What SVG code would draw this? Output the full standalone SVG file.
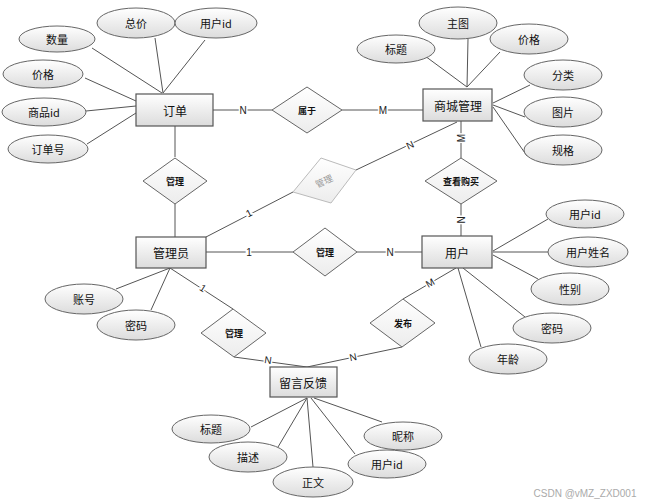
<svg xmlns="http://www.w3.org/2000/svg" width="648" height="504" viewBox="0 0 648 504">
<defs>
<linearGradient id="g" x1="0" y1="0" x2="0" y2="1"><stop offset="0" stop-color="#ffffff"/><stop offset="1" stop-color="#dcdcdc"/></linearGradient>
<linearGradient id="gd" x1="0" y1="0" x2="0" y2="1"><stop offset="0" stop-color="#ffffff"/><stop offset="1" stop-color="#ececec"/></linearGradient>
</defs>
<style>
text{font-family:"Noto Sans CJK SC","Noto Sans",sans-serif;fill:#111;text-anchor:middle;dominant-baseline:central}
.ent rect{fill:url(#g);stroke:#555;stroke-width:1.2}
.ent text{font-size:12px}
.att ellipse{fill:url(#g);stroke:#666;stroke-width:1}
.att text{font-size:11px}
.rel polygon{fill:url(#gd);stroke:#666;stroke-width:1}
.rel text{font-size:9px;font-weight:bold}
#conn line{stroke:#555;stroke-width:1}
.lbl{font-family:"Liberation Sans",sans-serif;font-size:10px;fill:#222;stroke:#fff;stroke-width:3;paint-order:stroke}
</style>
<rect width="648" height="504" fill="#fff"/>
<g id="conn">
<line x1="92" y1="48" x2="162" y2="93"/>
<line x1="155" y1="38" x2="163" y2="93"/>
<line x1="205" y1="40" x2="163" y2="93"/>
<line x1="85" y1="78" x2="136" y2="101"/>
<line x1="86" y1="111" x2="136" y2="106"/>
<line x1="87" y1="144" x2="136" y2="113"/>
<line x1="425" y1="56" x2="467" y2="87"/>
<line x1="468" y1="39" x2="467" y2="87"/>
<line x1="500" y1="52" x2="467" y2="87"/>
<line x1="530" y1="85" x2="493" y2="103"/>
<line x1="525" y1="117" x2="493" y2="105"/>
<line x1="527" y1="156" x2="493" y2="107"/>
<line x1="213" y1="110" x2="272" y2="110"/>
<line x1="342" y1="110" x2="423" y2="110"/>
<line x1="175" y1="126" x2="175" y2="157"/>
<line x1="175" y1="204" x2="175" y2="237"/>
<line x1="461" y1="121" x2="461" y2="158"/>
<line x1="461" y1="204" x2="461" y2="236"/>
<line x1="457" y1="122" x2="356" y2="170"/>
<line x1="293" y1="192" x2="206" y2="237"/>
<line x1="206" y1="252" x2="293" y2="252"/>
<line x1="357" y1="252" x2="422" y2="252"/>
<line x1="170" y1="268" x2="233" y2="309"/>
<line x1="234" y1="357" x2="307" y2="367"/>
<line x1="402" y1="347" x2="307" y2="367"/>
<line x1="456" y1="268" x2="403" y2="299"/>
<line x1="116" y1="289" x2="170" y2="268"/>
<line x1="151" y1="310" x2="170" y2="268"/>
<line x1="493" y1="251" x2="548" y2="219"/>
<line x1="493" y1="252" x2="548" y2="252"/>
<line x1="493" y1="255" x2="538" y2="279"/>
<line x1="463" y1="268" x2="525" y2="317"/>
<line x1="458" y1="268" x2="481" y2="347"/>
<line x1="307" y1="398" x2="251" y2="427"/>
<line x1="307" y1="398" x2="278" y2="447"/>
<line x1="307" y1="398" x2="313" y2="467"/>
<line x1="311" y1="398" x2="355" y2="454"/>
<line x1="314" y1="398" x2="382" y2="422"/>
<text class="lbl" x="243" y="110">N</text>
<text class="lbl" x="383" y="110">M</text>
<text class="lbl" transform="translate(461,138) rotate(-90)">M</text>
<text class="lbl" transform="translate(461,220) rotate(-90)">N</text>
<text class="lbl" transform="translate(410,145) rotate(-25)">N</text>
<text class="lbl" transform="translate(249,213) rotate(-27)">1</text>
<text class="lbl" x="249" y="252">1</text>
<text class="lbl" x="390" y="252">N</text>
<text class="lbl" transform="translate(203,288) rotate(33)">1</text>
<text class="lbl" transform="translate(268,360) rotate(8)">N</text>
<text class="lbl" transform="translate(353,357) rotate(-12)">N</text>
<text class="lbl" transform="translate(430,283) rotate(-30)">M</text>
</g>
<g id="订单" class="ent"><rect x="136" y="94" width="77" height="32"/><text x="175" y="110">订单</text></g>
<g id="商城管理" class="ent"><rect x="423" y="89" width="69" height="32"/><text x="458" y="105">商城管理</text></g>
<g id="管理员" class="ent"><rect x="136" y="237" width="70" height="31"/><text x="171" y="252">管理员</text></g>
<g id="用户" class="ent"><rect x="422" y="236" width="70" height="32"/><text x="457" y="252">用户</text></g>
<g id="留言反馈" class="ent"><rect x="270" y="367" width="67" height="30"/><text x="303" y="382">留言反馈</text></g>
<g id="属于" class="rel"><polygon points="272,110 307,87 342,110 307,133"/><text x="307" y="110">属于</text></g>
<g id="管理1" class="rel"><polygon points="143,181 175,158 207,181 175,204"/><text x="175" y="181">管理</text></g>
<g id="管理2" class="rel"><polygon points="293,192 321,158 356,170 331,203" style="stroke:#bbb"/><text transform="translate(324,181) rotate(-25)" style="fill:#999;font-weight:normal">管理</text></g>
<g id="管理3" class="rel"><polygon points="293,252 325,228 357,252 325,276"/><text x="325" y="252">管理</text></g>
<g id="查看购买" class="rel"><polygon points="425,181 461,158 497,181 461,204"/><text x="461" y="181">查看购买</text></g>
<g id="发布" class="rel"><polygon points="370,323 403,299 435,323 402,347"/><text x="403" y="323">发布</text></g>
<g id="管理4" class="rel"><polygon points="201,333 233,309 266,333 234,357"/><text x="234" y="333">管理</text></g>
<g id="订单-数量" class="att"><ellipse cx="57" cy="39" rx="38" ry="13"/><text x="57" y="39">数量</text></g>
<g id="订单-总价" class="att"><ellipse cx="136" cy="23" rx="39" ry="15"/><text x="136" y="23">总价</text></g>
<g id="订单-用户id" class="att"><ellipse cx="216" cy="23" rx="41" ry="15"/><text x="216" y="23">用户id</text></g>
<g id="订单-价格" class="att"><ellipse cx="43" cy="74" rx="40" ry="14"/><text x="43" y="74">价格</text></g>
<g id="订单-商品id" class="att"><ellipse cx="44" cy="112" rx="42" ry="14"/><text x="44" y="112">商品id</text></g>
<g id="订单-订单号" class="att"><ellipse cx="48" cy="149" rx="40" ry="14"/><text x="48" y="149">订单号</text></g>
<g id="商城-标题" class="att"><ellipse cx="396" cy="49" rx="39" ry="14"/><text x="396" y="49">标题</text></g>
<g id="商城-主图" class="att"><ellipse cx="458" cy="23" rx="39" ry="16"/><text x="458" y="23">主图</text></g>
<g id="商城-价格" class="att"><ellipse cx="529" cy="39" rx="39" ry="15"/><text x="529" y="39">价格</text></g>
<g id="商城-分类" class="att"><ellipse cx="563" cy="75" rx="39" ry="15"/><text x="563" y="75">分类</text></g>
<g id="商城-图片" class="att"><ellipse cx="563" cy="112" rx="39" ry="15"/><text x="563" y="112">图片</text></g>
<g id="商城-规格" class="att"><ellipse cx="563" cy="150" rx="39" ry="15"/><text x="563" y="150">规格</text></g>
<g id="管理员-账号" class="att"><ellipse cx="84" cy="299" rx="39" ry="15"/><text x="84" y="299">账号</text></g>
<g id="管理员-密码" class="att"><ellipse cx="136" cy="325" rx="39" ry="15"/><text x="136" y="325">密码</text></g>
<g id="用户-用户id" class="att"><ellipse cx="585" cy="214" rx="39" ry="14"/><text x="585" y="214">用户id</text></g>
<g id="用户-用户姓名" class="att"><ellipse cx="588" cy="252" rx="40" ry="15"/><text x="588" y="252">用户姓名</text></g>
<g id="用户-性别" class="att"><ellipse cx="570" cy="289" rx="39" ry="16"/><text x="570" y="289">性别</text></g>
<g id="用户-密码" class="att"><ellipse cx="552" cy="328" rx="39" ry="15"/><text x="552" y="328">密码</text></g>
<g id="用户-年龄" class="att"><ellipse cx="508" cy="359" rx="39" ry="15"/><text x="508" y="359">年龄</text></g>
<g id="留言-标题" class="att"><ellipse cx="211" cy="429" rx="39" ry="14"/><text x="211" y="429">标题</text></g>
<g id="留言-描述" class="att"><ellipse cx="248" cy="457" rx="39" ry="15"/><text x="248" y="457">描述</text></g>
<g id="留言-正文" class="att"><ellipse cx="313" cy="482" rx="40" ry="15"/><text x="313" y="482">正文</text></g>
<g id="留言-用户id" class="att"><ellipse cx="387" cy="464" rx="39" ry="14"/><text x="387" y="464">用户id</text></g>
<g id="留言-昵称" class="att"><ellipse cx="403" cy="436" rx="39" ry="14"/><text x="403" y="436">昵称</text></g>
<text x="585" y="493" style="font-family:'Liberation Sans',sans-serif;font-size:10px;fill:#aaa">CSDN @vMZ_ZXD001</text>
</svg>
